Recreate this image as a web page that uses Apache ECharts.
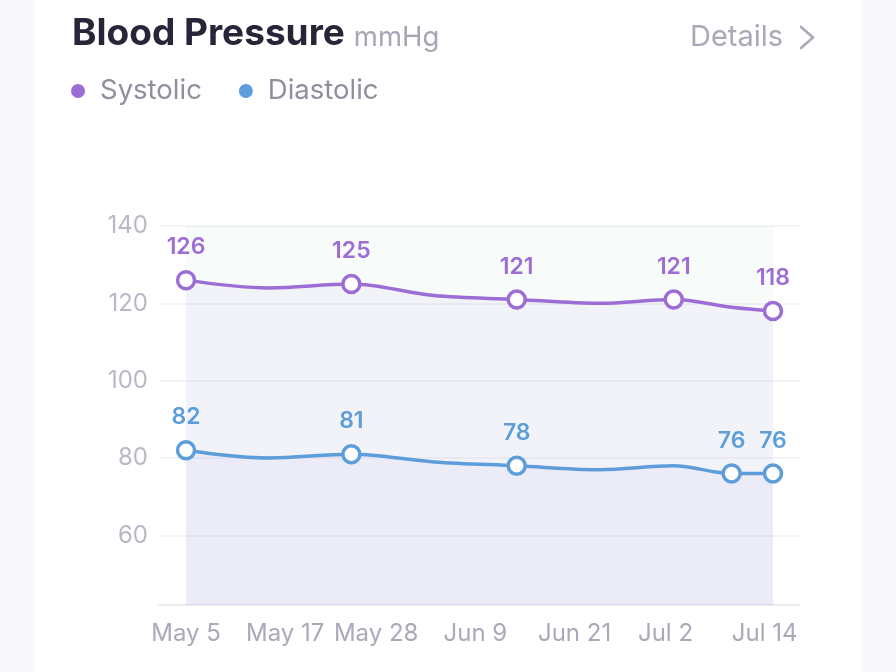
<!DOCTYPE html>
<html>
<head>
<meta charset="utf-8">
<style>
  html, body { margin: 0; padding: 0; background: #f8f7fb; }
  #chart { width: 896px; height: 672px; }
</style>
<script src="https://cdn.jsdelivr.net/npm/echarts@6/dist/echarts.min.js"></script>
</head>
<body>
<div id="chart"></div>
<script>
// ---- data ----
const dates = ['2024-05-05','2024-05-15','2024-05-25','2024-06-04','2024-06-14','2024-06-24','2024-07-03','2024-07-10','2024-07-15'];
const systolic = [126, 124, 125, 122, 121, 120, 121, 119, 118];
const diastolic = [82, 80, 81, 79, 78, 77, 78, 76, 76];
const systolicMarked = [true, false, true, false, true, false, true, false, true];
const diastolicMarked = [true, false, true, false, true, false, false, true, true];
const xTickDates = ['2024-05-05','2024-05-17','2024-05-28','2024-06-09','2024-06-21','2024-07-02','2024-07-14'];
const xTickLabels = ['May 5','May 17','May 28','Jun 9','Jun 21','Jul 2','Jul 14'];
const yTicks = [60, 80, 100, 120, 140];
const yMin = 42, yMax = 140;

// day offsets from the first reading (value axis in days)
const DAY = 86400000;
function ts(s) { const p = s.split('-').map(Number); return Date.UTC(p[0], p[1] - 1, p[2]); }
const t0 = ts(dates[0]);
const xs = dates.map(d => Math.round((ts(d) - t0) / DAY));
const xTicks = xTickDates.map(d => Math.round((ts(d) - t0) / DAY));
const pad = 3.27;

const FONT = 'Inter';
const C_SYS = '#9d6dd6';
const C_DIA = '#5c9dda';

function buildData(vals, marked) {
  return vals.map((v, i) => ({
    value: [xs[i], v],
    symbol: marked[i] ? 'circle' : 'none',
    label: { show: marked[i] }
  }));
}

const chart = echarts.init(document.getElementById('chart'), null, { renderer: 'canvas' });
chart.setOption({
  backgroundColor: '#f8f7fb',
  animation: false,
  graphic: [
    { type: 'rect', z: -10, shape: { x: 34, y: -30, width: 828, height: 740, r: 24 }, style: { fill: '#ffffff' } },
    { type: 'text', left: 690, top: 23, style: { text: 'Details', fontSize: 29, fontFamily: FONT, fill: '#a9a9b7' } },
    { type: 'polyline', shape: { points: [[801, 27], [813, 37.5], [801, 48]] }, style: { stroke: '#a9a9b7', lineWidth: 2.6, fill: null, lineCap: 'round', lineJoin: 'round' } }
  ],
  title: {
    left: 72, top: 15, padding: 0,
    text: '{t|Blood Pressure}{u|mmHg}',
    textStyle: {
      rich: {
        t: { fontSize: 37, fontWeight: 700, fontFamily: FONT, color: '#262638' },
        u: { fontSize: 27.5, fontWeight: 400, fontFamily: FONT, color: '#a6a6b5', padding: [9, 0, 0, 9] }
      }
    }
  },
  legend: {
    left: 66, top: 72,
    icon: 'circle',
    itemWidth: 14, itemHeight: 14,
    itemGap: 37,
    textStyle: { fontSize: 27.5, fontFamily: FONT, color: '#8f8f9e', padding: [0, 0, 0, 10] },
    data: [
      { name: 'Systolic', itemStyle: { color: C_SYS, borderWidth: 0 } },
      { name: 'Diastolic', itemStyle: { color: C_DIA, borderWidth: 0 } }
    ]
  },
  grid: { left: 159, right: 96, top: 226, bottom: 67 },
  xAxis: {
    type: 'value',
    min: xs[0] - pad,
    max: xs[xs.length - 1] + pad,
    axisLine: { lineStyle: { color: '#e4e4eb', width: 1.5 } },
    axisTick: { show: false, customValues: xTicks },
    splitLine: { show: false },
    axisLabel: {
      customValues: xTicks,
      margin: 17,
      fontSize: 24, fontFamily: FONT, color: '#a9a9b8',
      formatter: function (val) {
        const i = xTicks.indexOf(Math.round(val));
        return i >= 0 ? xTickLabels[i] : '';
      }
    }
  },
  yAxis: {
    type: 'value',
    min: yMin, max: yMax,
    axisLine: { show: false },
    axisTick: { show: false, customValues: yTicks },
    axisLabel: { customValues: yTicks, margin: 11, fontSize: 24, fontFamily: FONT, color: '#b9b9c6' },
    splitLine: { show: true, lineStyle: { color: '#f1f1f5', width: 1.5 } }
  },
  series: [
    {
      // light mint backdrop spanning the reading period (drawn first)
      name: 'range', type: 'line', silent: true,
      data: [[xs[0], yMax], [xs[xs.length - 1], yMax]],
      symbol: 'none',
      lineStyle: { width: 0 },
      areaStyle: { color: 'rgba(120,210,175,0.09)' },
      tooltip: { show: false },
      z: 1
    },
    {
      name: 'Systolic', type: 'line', smooth: 0.35,
      data: buildData(systolic, systolicMarked),
      symbolSize: 17,
      itemStyle: { color: '#ffffff', borderColor: C_SYS, borderWidth: 3.5 },
      lineStyle: { color: C_SYS, width: 3.5 },
      areaStyle: { color: 'rgba(195,150,230,0.12)' },
      label: { show: true, position: 'top', distance: 11, color: C_SYS, fontSize: 23, fontWeight: 600, fontFamily: FONT, formatter: p => p.value[1] },
      z: 3
    },
    {
      name: 'Diastolic', type: 'line', smooth: 0.35,
      data: buildData(diastolic, diastolicMarked),
      symbolSize: 17,
      itemStyle: { color: '#ffffff', borderColor: C_DIA, borderWidth: 3.5 },
      lineStyle: { color: C_DIA, width: 3.5 },
      areaStyle: { color: 'rgba(120,130,235,0.08)' },
      label: { show: true, position: 'top', distance: 11, color: C_DIA, fontSize: 23, fontWeight: 600, fontFamily: FONT, formatter: p => p.value[1] },
      z: 4
    }
  ]
});
</script>
</body>
</html>
